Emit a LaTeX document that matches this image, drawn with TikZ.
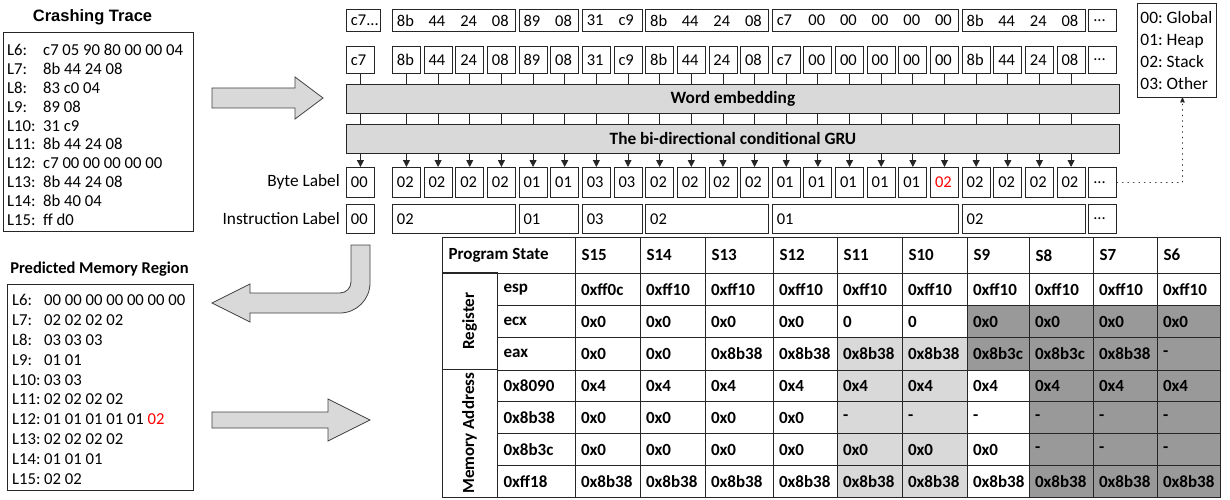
\documentclass[tikz,border=0pt]{standalone}
\usepackage{fontspec}
\setmainfont{Carlito}
\newfontfamily\arialfont{Liberation Sans}
\usetikzlibrary{arrows.meta,calc}
\frenchspacing
\definecolor{ln}{HTML}{262626}
\definecolor{cw}{HTML}{FFFFFF}
\definecolor{cl}{HTML}{D9D9D9}
\definecolor{cd}{HTML}{999999}
\definecolor{bigfill}{HTML}{D9D9D9}
\definecolor{bigline}{HTML}{404040}
\definecolor{redtxt}{HTML}{FF0000}
\newcommand\bx[1]{\makebox[31.65pt][l]{#1}}
\newcommand\lab[2]{\makebox[#1][l]{#2}}
\def\px{31.65}
\def\colx{{575,640,705,773,837,902,967,1029,1093,1157,1220}}
\def\rowy{{237,272.5,305,337,369.5,401,433,465,497}}
\tikzset{
  cell/.style={draw=ln, line width=0.9pt, anchor=north west, inner xsep=4.5pt, inner ysep=0pt, align=flush left, font=\fontsize{16.5}{18}\selectfont},
  tcell/.style={draw=ln, line width=1pt, anchor=north west, inner xsep=6pt, inner ysep=0pt, align=flush left, font=\fontsize{17}{19}\selectfont\bfseries},
  catcell/.style={draw=ln, line width=1pt, inner sep=0pt, align=center, font=\fontsize{17}{19}\selectfont\bfseries},
  bigbar/.style={draw=ln, line width=0.9pt, fill=bigfill, anchor=north west, minimum width=773pt, minimum height=29pt, inner sep=0pt, font=\fontsize{17.3}{19}\selectfont\bfseries},
  bigarrow/.style={fill=bigfill, draw=bigline, line width=0.8pt},
  garrow/.style={-{Triangle[length=7pt,width=7pt]}, line width=0.9pt, draw=ln},
  tickline/.style={line width=0.9pt, draw=ln},
  dotarrow/.style={line width=1.8pt, dash pattern=on 0.01pt off 5.5pt, line cap=round, draw=ln, -{Stealth[length=7pt,width=6pt,round]}},
  plaintext/.style={inner sep=0pt, font=\fontsize{17.3}{19}\selectfont},
}
\newcommand\grp[6]{%
  \pgfmathsetmacro\gx{392+\px*#2}%
  \pgfmathsetmacro\gw{#3*\px-3.65}%
  \pgfmathsetmacro\gt{\gw-9}%
  \node[cell, minimum width=\gw pt, text width=\gt pt, minimum height=#5pt] (#1) at (\gx,#4) {#6};%
}
\newcommand\trow[3]{%
  \pgfmathsetmacro\yt{\rowy[#1]}%
  \pgfmathsetmacro\yb{\rowy[#1+1]}%
  \pgfmathsetmacro\hh{\yb-\yt}%
  \node[tcell, minimum width=78pt, text width=66pt, minimum height=\hh pt] (rl-#1) at (497,\yt) {#2};%
  \foreach \ff/\vv [count=\ci] in {#3}{%
    \pgfmathsetmacro\xl{\colx[\ci-1]}%
    \pgfmathsetmacro\xr{\colx[\ci]}%
    \pgfmathsetmacro\ww{\xr-\xl}%
    \pgfmathsetmacro\tw{\ww-11}%
    \node[tcell, fill=c\ff, inner xsep=5.5pt, minimum width=\ww pt, text width=\tw pt, minimum height=\hh pt] (t-#1-\ci) at (\xl,\yt) {\vv};%
  }%
}
\begin{document}
\begin{tikzpicture}[x=1pt,y=-1pt]
\useasboundingbox (0,0) rectangle (1230,500);

% ---------- Crashing trace ----------
\node[inner sep=0pt, font=\arialfont\bfseries\fontsize{16.5}{18}\selectfont] (ttl-ct) at (92.5,17.5) {Crashing Trace};
\node[draw=ln, line width=0.9pt, anchor=north west, minimum width=190pt, minimum height=199pt, inner sep=0pt] (ctbox) at (3,32) {};
\node[anchor=north west, inner sep=0pt, align=flush left, font=\fontsize{16.7}{18.9}\selectfont] (cttext) at (7,42) {%
\strut\lab{36pt}{L6:}c7 05 90 80 00 00 04\\
\lab{36pt}{L7:}8b 44 24 08\\
\lab{36pt}{L8:}83 c0 04\\
\lab{36pt}{L9:}89 08\\
\lab{36pt}{L10:}31 c9\\
\lab{36pt}{L11:}8b 44 24 08\\
\lab{36pt}{L12:}c7 00 00 00 00 00\\
\lab{36pt}{L13:}8b 44 24 08\\
\lab{36pt}{L14:}8b 40 04\\
\lab{36pt}{L15:}ff d0};

% ---------- Predicted memory region ----------
\node[inner sep=0pt, font=\fontsize{16.5}{18}\selectfont\bfseries] (ttl-pm) at (99.5,269) {Predicted Memory Region};
\node[draw=ln, line width=0.9pt, anchor=north west, minimum width=186pt, minimum height=206pt, inner sep=0pt] (pmbox) at (7,284) {};
\node[anchor=north west, inner sep=0pt, align=flush left, font=\fontsize{16.7}{19.9}\selectfont] (pmtext) at (12,291.3) {%
\strut\lab{32pt}{L6:}00 00 00 00 00 00 00\\
\lab{32pt}{L7:}02 02 02 02\\
\lab{32pt}{L8:}03 03 03\\
\lab{32pt}{L9:}01 01\\
\lab{32pt}{L10:}03 03\\
\lab{32pt}{L11:}02 02 02 02\\
\lab{32pt}{L12:}01 01 01 01 01 \textcolor{redtxt}{02}\\
\lab{32pt}{L13:}02 02 02 02\\
\lab{32pt}{L14:}01 01 01\\
\lab{32pt}{L15:}02 02};

% ---------- big arrows ----------
\draw[bigarrow] (212,88) -- (295,88) -- (295,77) -- (323,98) -- (295,119) -- (295,108) -- (212,108) -- cycle;
\draw[bigarrow] (212,412) -- (328,412) -- (328,399) -- (370,420) -- (328,441) -- (328,428) -- (212,428) -- cycle;
\draw[bigarrow] (351,245) -- (370,245) -- (370,283) .. controls (370,299.5) and (356.5,313) .. (340,313) -- (250,313) -- (250,322) -- (212,303) -- (250,284) -- (250,293) -- (340,293) .. controls (346,293) and (351,288) .. (351,282) -- cycle;

% ---------- top row (instructions) ----------
\node[cell, minimum width=34pt, text width=25pt, minimum height=22pt] (a-c) at (346,9) {c7...};
\grp{a-1}{0}{4}{9}{22}{\bx{8b}\bx{44}\bx{24}08}
\grp{a-2}{4}{2}{9}{22}{\bx{89}08}
\grp{a-3}{6}{2}{9}{22}{\bx{31}c9}
\grp{a-4}{8}{4}{9}{22}{\bx{8b}\bx{44}\bx{24}08}
\grp{a-5}{12}{6}{9}{22}{\bx{c7}\bx{00}\bx{00}\bx{00}\bx{00}00}
\grp{a-6}{18}{4}{9}{22}{\bx{8b}\bx{44}\bx{24}08}
\grp{a-7}{22}{1}{9}{22}{...}

% ---------- byte row ----------
\node[cell, minimum width=28pt, text width=19pt, minimum height=27pt] (b-c) at (346,46) {c7};
\foreach \vv [count=\k from 0] in {8b,44,24,08,89,08,31,c9,8b,44,24,08,c7,00,00,00,00,00,8b,44,24,08}{
  \node[cell, minimum width=28pt, text width=19pt, minimum height=27pt] (b-\k) at ({392+\px*\k},46) {\vv};
}
\grp{b-22}{22}{1}{46}{27}{...}

% ---------- embedding and GRU ----------
\node[bigbar] (emb) at (346,84) {Word embedding};
\node[bigbar] (gru) at (346,124) {The bi-directional conditional GRU};

% ---------- byte labels ----------
\node[cell, minimum width=28pt, text width=19pt, minimum height=30pt] (c-c) at (346,167) {00};
\foreach \vv [count=\k from 0] in {02,02,02,02,01,01,03,03,02,02,02,02,01,01,01,01,01,\textcolor{redtxt}{02},02,02,02,02}{
  \node[cell, minimum width=28pt, text width=19pt, minimum height=30pt] (c-\k) at ({392+\px*\k},167) {\vv};
}
\grp{c-22}{22}{1}{167}{30}{...}

% ---------- instruction labels ----------
\node[cell, minimum width=28pt, text width=19pt, minimum height=29pt] (i-c) at (346,204) {00};
\grp{i-1}{0}{4}{204}{29}{02}
\grp{i-2}{4}{2}{204}{29}{01}
\grp{i-3}{6}{2}{204}{29}{03}
\grp{i-4}{8}{4}{204}{29}{02}
\grp{i-5}{12}{6}{204}{29}{01}
\grp{i-6}{18}{4}{204}{29}{02}
\grp{i-7}{22}{1}{204}{29}{...}

\node[plaintext, anchor=east] (lbl-byte) at (340,182) {Byte Label};
\node[plaintext, anchor=east] (lbl-ins) at (340,218.5) {Instruction Label};

% ---------- ticks and arrows ----------
\draw[tickline] (b-c.south) -- (b-c.south |- emb.north);
\draw[tickline] (b-c.south |- emb.south) -- (b-c.south |- gru.north);
\draw[garrow] (b-c.south |- gru.south) -- (c-c.north);
\foreach \k in {0,...,21}{
  \draw[tickline] (b-\k.south) -- (b-\k.south |- emb.north);
  \draw[tickline] (b-\k.south |- emb.south) -- (b-\k.south |- gru.north);
  \draw[garrow] (b-\k.south |- gru.south) -- (c-\k.north);
}

% ---------- legend ----------
\node[draw=ln, line width=0.9pt, anchor=north west, minimum width=79pt, minimum height=94pt, inner xsep=3pt, inner ysep=0pt, text width=73pt, align=flush left, font=\fontsize{17.4}{22}\selectfont] (leg) at (1137,3) {00: Global\\01: Heap\\02: Stack\\03: Other};
\coordinate (legin) at ($(leg.south)+(5.5,0)$);
\draw[dotarrow] (c-22.east) -| (legin);

% ---------- table ----------
\node[tcell, minimum width=133pt, text width=121pt, minimum height=35.5pt] (h-0) at (442,237) {Program State};
\foreach \vv [count=\ci] in {S15,S14,S13,S12,S11,S10,S9,S8,S7,S6}{
  \pgfmathsetmacro\xl{\colx[\ci-1]}
  \pgfmathsetmacro\xr{\colx[\ci]}
  \pgfmathsetmacro\ww{\xr-\xl}
  \pgfmathsetmacro\tw{\ww-12}
  \node[tcell, minimum width=\ww pt, text width=\tw pt, minimum height=35.5pt] (h-\ci) at (\xl,237) {\vv};
}
\trow{1}{esp}{w/0xff0c,w/0xff10,w/0xff10,w/0xff10,w/0xff10,w/0xff10,w/0xff10,w/0xff10,w/0xff10,w/0xff10}
\trow{2}{ecx}{w/0x0,w/0x0,w/0x0,w/0x0,w/0,w/0,d/0x0,d/0x0,d/0x0,d/0x0}
\trow{3}{eax}{w/0x0,w/0x0,w/0x8b38,w/0x8b38,l/0x8b38,l/0x8b38,d/0x8b3c,d/0x8b3c,d/0x8b38,d/-}
\trow{4}{0x8090}{w/0x4,w/0x4,w/0x4,w/0x4,l/0x4,l/0x4,w/0x4,d/0x4,d/0x4,d/0x4}
\trow{5}{0x8b38}{w/0x0,w/0x0,w/0x0,w/0x0,l/-,l/-,w/-,d/-,d/-,d/-}
\trow{6}{0x8b3c}{w/0x0,w/0x0,w/0x0,w/0x0,l/0x0,l/0x0,w/0x0,d/-,d/-,d/-}
\trow{7}{0xff18}{w/0x8b38,w/0x8b38,w/0x8b38,w/0x8b38,l/0x8b38,l/0x8b38,w/0x8b38,d/0x8b38,d/0x8b38,d/0x8b38}
\node[catcell, rotate=90, minimum width=97pt, minimum height=55pt] (cat-reg) at (469.5,321) {Register};
\node[catcell, rotate=90, minimum width=127.5pt, minimum height=55pt] (cat-mem) at (469.5,433.25) {Memory Address};
\end{tikzpicture}
\end{document}
